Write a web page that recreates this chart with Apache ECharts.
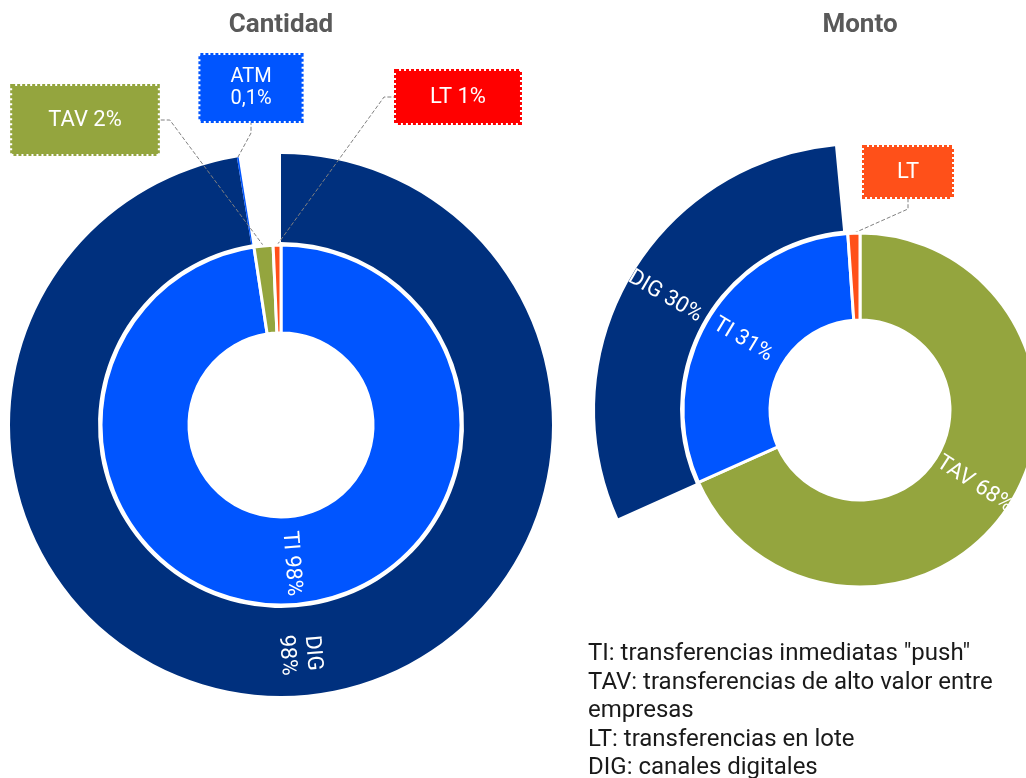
<!DOCTYPE html>
<html>
<head>
<meta charset="utf-8">
<script src="https://cdn.jsdelivr.net/npm/echarts@6/dist/echarts.min.js"></script>
<style>
  html, body { margin: 0; padding: 0; background: #fff; }
  #main { width: 1026px; height: 778px; }
</style>
</head>
<body>
<div id="main"></div>
<script>
// Cantidad (left)
let cantInnerNames = ['TI', 'TAV', 'LT'];
let cantInnerValues = [97.6, 1.7, 0.7];
let cantInnerTexts = ['TI 98%', 'TAV 2%', 'LT 1%'];
let cantOuterNames = ['DIG', 'ATM', ''];
let cantOuterValues = [97.4, 0.1, 2.5];
let cantOuterTexts = ['DIG\n98%', 'ATM\n0,1%', ''];

// Monto (right)
let montoInnerNames = ['TAV', 'TI', 'LT'];
let montoInnerValues = [68.3, 30.6, 1.1];
let montoInnerTexts = ['TAV 68%', 'TI 31%', 'LT'];
let montoOuterNames = ['', 'DIG', ''];
let montoOuterValues = [68.3, 30.2, 1.5];
let montoOuterTexts = ['', 'DIG 30%', ''];

let titles = ['Cantidad', 'Monto'];
let notes = [
  'TI: transferencias inmediatas "push"',
  'TAV: transferencias de alto valor entre',
  'empresas',
  'LT: transferencias en lote',
  'DIG: canales digitales'
];

let sliceColor = {
  TI: '#0055FF',
  TAV: '#94A53E',
  LT: '#FF5019',
  DIG: '#00307E',
  ATM: '#0055FF'
};

// boxed callouts: series index -> data index -> box position / look
let boxes = {
  0: {1: {pos: [85, 120], color: '#94A53E', pad: [21, 36], size: 22, lh: 26},
      2: {pos: [458, 97], color: '#FF0000', pad: [13, 34], size: 22, lh: 26}},
  1: {1: {pos: [251, 88], color: '#0055FF', pad: [11, 30], size: 20, lh: 22}},
  2: {2: {pos: [908, 172], color: '#FF5019', pad: [12, 33], size: 22, lh: 26}}
};

function buildData(seriesIdx, names, values, texts) {
  return names.map(function (name, i) {
    if (!name) {
      return {
        name: '', value: values[i],
        itemStyle: {color: 'rgba(0,0,0,0)', borderWidth: 0},
        label: {show: false}, labelLine: {show: false},
        emphasis: {disabled: true}
      };
    }
    let item = {name: name, value: values[i], itemStyle: {color: sliceColor[name]}};
    let box = boxes[seriesIdx] && boxes[seriesIdx][i];
    if (box) {
      item.label = {
        show: true, position: 'outside', formatter: texts[i], rotate: 0,
        color: '#fff', fontSize: box.size, lineHeight: box.lh, fontFamily: 'Roboto',
        backgroundColor: box.color, borderColor: box.color,
        borderWidth: 2, borderType: [3, 2], padding: box.pad
      };
      item.labelLine = {
        show: true, length: 10, length2: 10, smooth: false,
        lineStyle: {color: '#808080', type: [4, 2], width: 1}
      };
    } else {
      item.label = {
        show: true, position: 'inside', rotate: 'radial', formatter: texts[i],
        color: '#fff', fontSize: 22, lineHeight: 26, fontFamily: 'Roboto'
      };
      item.labelLine = {show: false};
    }
    return item;
  });
}

function pieSeries(seriesIdx, center, radius, names, values, texts, border, z) {
  return {
    type: 'pie',
    z: z,
    center: center,
    radius: radius,
    startAngle: 90,
    clockwise: true,
    sort: null,
    avoidLabelOverlap: false,
    animation: false,
    silent: true,
    itemStyle: {borderColor: '#fff', borderWidth: border},
    labelLayout: function (params) {
      let box = boxes[seriesIdx] && boxes[seriesIdx][params.dataIndex];
      if (!box) return {};
      return {x: box.pos[0], y: box.pos[1], align: 'center', verticalAlign: 'middle'};
    },
    data: buildData(seriesIdx, names, values, texts)
  };
}

let myChart = echarts.init(document.getElementById('main'));
let option = {
  backgroundColor: '#fff',
  animation: false,
  graphic: [
    {type: 'text', x: 281, y: 25, style: {text: titles[0], fill: '#595959', font: 'bold 26px Roboto', textAlign: 'center', textVerticalAlign: 'middle'}},
    {type: 'text', x: 860, y: 25, style: {text: titles[1], fill: '#595959', font: 'bold 26px Roboto', textAlign: 'center', textVerticalAlign: 'middle'}},
    {type: 'text', x: 588, y: 640, style: {text: notes.join('\n'), fill: '#1a1a1a', font: '24px Roboto', lineHeight: 28.5}}
  ],
  series: [
    pieSeries(0, [281, 425], [92, 180], cantInnerNames, cantInnerValues, cantInnerTexts, 3, 4),
    pieSeries(1, [281, 425], [183, 271], cantOuterNames, cantOuterValues, cantOuterTexts, 0, 2),
    pieSeries(2, [860, 410], [90, 177], montoInnerNames, montoInnerValues, montoInnerTexts, 3, 4),
    pieSeries(3, [860, 410], [180, 265], montoOuterNames, montoOuterValues, montoOuterTexts, 0, 2)
  ]
};
myChart.setOption(option);
</script>
</body>
</html>
